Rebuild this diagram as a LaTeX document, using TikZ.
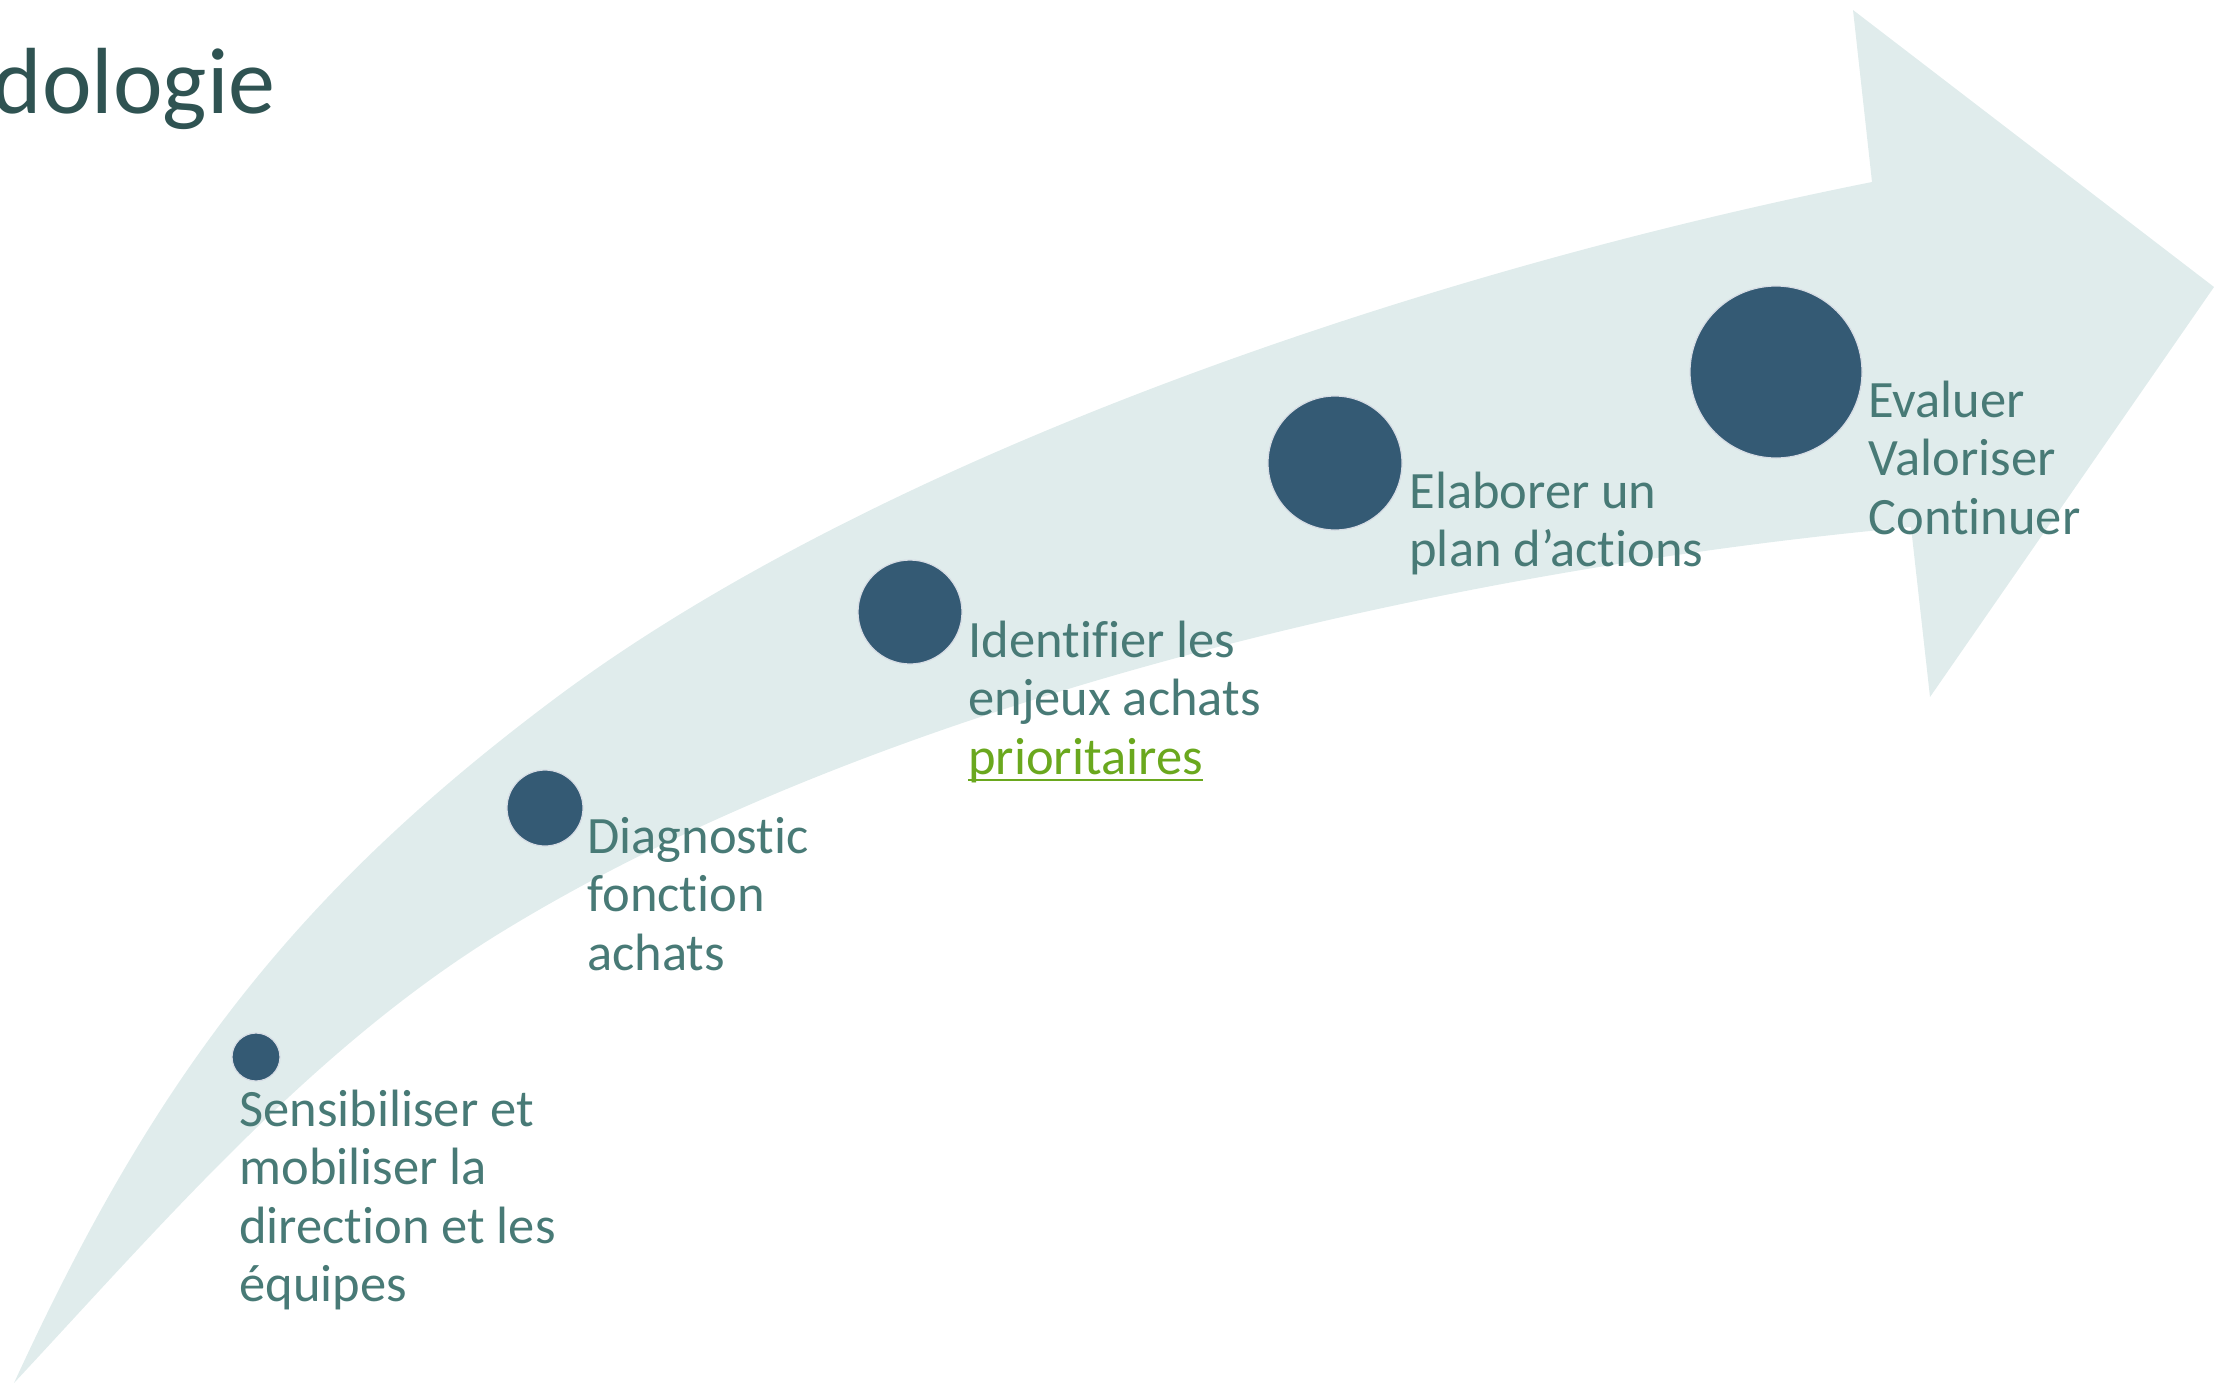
\documentclass[tikz,border=0pt]{standalone}
\usepackage{fontspec}
\setmainfont{Carlito}[Ligatures={NoCommon}]
\definecolor{bandfill}{RGB}{224,236,236}
\definecolor{dotblue}{RGB}{52,90,116}
\definecolor{dotrim}{RGB}{214,220,228}
\definecolor{lbltext}{RGB}{72,122,118}
\definecolor{titletext}{RGB}{47,83,82}
\definecolor{linkgreen}{RGB}{106,168,30}
\newcommand\leftlines[1]{\vtop{\halign{##\hfil\cr#1\crcr}}}
\begin{document}
\begin{tikzpicture}[x=0.5pt,y=-0.5pt,
  dot/.style={circle, fill=dotblue, draw=dotrim, line width=0.6pt, inner sep=0pt},
  lbl/.style={anchor=base west, inner sep=0pt, text=lbltext, font=\fontsize{26.25}{29.25}\selectfont},
  bandshape/.style={fill=bandfill}]
\useasboundingbox (0,0) rectangle (2216,1383);
% curved arrow band
\path[bandshape] (14,1383)
  .. controls (152,1083) and (289,898) .. (553,700)
  .. controls (873,460) and (1411,274) .. (1872,182)
  -- (1853,10) -- (2214,287) -- (1930,697) -- (1911,527)
  .. controls (1423,572) and (866,708) .. (500,933)
  .. controls (313,1048) and (164,1222) .. (14,1383) -- cycle;
% title
\node[anchor=base east, inner sep=0pt, text=titletext, font=\fontsize{47}{56}\selectfont] (title) at (276,113) {dologie};
% dots
\node[dot, minimum size=24pt] (d1) at (256,1057) {};
\node[dot, minimum size=38pt] (d2) at (545,808) {};
\node[dot, minimum size=52pt] (d3) at (910,612) {};
\node[dot, minimum size=67pt] (d4) at (1335,463) {};
\node[dot, minimum size=86pt] (d5) at (1776,372) {};
% labels
\node[lbl] (t1) at (239,1126) {\leftlines{Sensibiliser et\cr mobiliser la\cr direction et les\cr équipes}};
\node[lbl] (t2) at (587,853) {\leftlines{Diagnostic\cr fonction\cr achats}};
\node[lbl] (t3) at (968,657) {\leftlines{Identifier les\cr enjeux achats}};
\node[lbl, text=linkgreen] (t3b) at (968,774) {prioritaires};
\draw[linkgreen, line width=1.2pt] ([yshift=-3pt]t3b.base west) -- ([yshift=-3pt]t3b.base east);
\node[lbl] (t4) at (1409,508) {\leftlines{Elaborer un\cr plan d’actions}};
\node[lbl] (t5) at (1868,417) {\leftlines{Evaluer\cr Valoriser\cr Continuer}};
\end{tikzpicture}
\end{document}
